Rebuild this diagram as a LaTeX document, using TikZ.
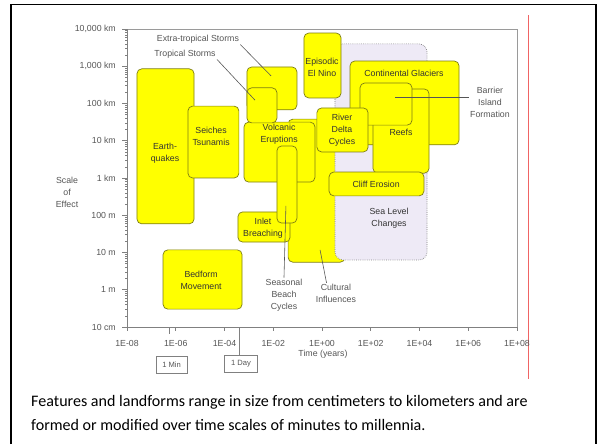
\documentclass[tikz,border=0pt]{standalone}
\usepackage{fontspec}
\setmainfont{Liberation Sans}
\newfontfamily\captionfont{Carlito}

\definecolor{boxedge}{RGB}{125,125,20}
\definecolor{boxyellow}{RGB}{255,255,0}
\definecolor{sealav}{RGB}{238,234,246}
\definecolor{axisgray}{RGB}{128,128,128}
\definecolor{labgray}{RGB}{85,85,85}
\definecolor{redrule}{RGB}{240,100,100}

\begin{document}
\begin{tikzpicture}[x=0.03cm, y=-0.03cm,
  box/.style={draw=boxedge, fill=boxyellow, rounded corners=4pt, line width=0.6pt},
  sea/.style={draw=gray, fill=sealav, rounded corners=7pt, line width=0.6pt, densely dotted},
  boxtext/.style={font=\fontsize{7.5}{10.2}\selectfont, text=black!80, align=center, inner sep=1pt},
  lab/.style={font=\fontsize{7.5}{10.2}\selectfont, text=labgray, align=center, inner sep=1pt},
  ylab/.style={font=\fontsize{7.5}{10.2}\selectfont, text=labgray, anchor=east, inner sep=0pt},
  axis/.style={draw=axisgray, line width=0.6pt},
  leader/.style={draw=labgray, line width=0.5pt},
  tbox/.style={draw=axisgray, line width=0.5pt, font=\fontsize{6.5}{8}\selectfont, text=labgray,
    inner xsep=5.5pt, minimum height=0.5cm},
  captxt/.style={anchor=base west, inner sep=0pt, font=\captionfont\fontsize{13.7}{16}\selectfont}]
  \useasboundingbox (0,0) rectangle (600,444);

  % Slide frame
  \draw[line width=1.7pt] (11,444) -- (11,4.5) -- (596,4.5) -- (596,444);
  \draw[redrule, line width=0.7pt] (528,15) -- (528,379);

  % Plot: u = decades of time from 1E-08 yr, v = decades of size from 10 cm
  \begin{scope}[shift={(127,327)}, x=0.73125cm, y=1.1175cm]
    % Frame and axes
    \draw[axisgray!80, line width=0.5pt] (0,8) -- (16,8) -- (16,0);
    \draw[axis] (0,0) -- (16,0);
    \draw[axis] (0,0) -- (0,8);
    \foreach \v/\txt in {0/10 cm, 1/1 m, 2/10 m, 3/100 m, 4/1 km, 5/10 km,
                         6/100 km, 7/{1,000 km}, 8/{10,000 km}} {
      \draw[axis] (0,\v) -- ++(-4pt,0);
      \node[ylab] (ylab\v) at (-0.45,\v) {\txt};
    }
    \foreach \v in {0,...,7}
      \foreach \m in {2,...,9}
        \draw[axis, line width=0.4pt] (0,{\v+log10(\m)}) -- ++(-2pt,0);
    \foreach \u/\txt in {0/1E-08, 2/1E-06, 4/1E-04, 6/1E-02, 8/1E+00,
                         10/1E+02, 12/1E+04, 14/1E+06, 16/1E+08} {
      \draw[axis] (\u,0) -- ++(0,-3pt);
      \node[lab] (xlab\u) at (\u,-0.43) {\txt};
    }
    \node[lab] (timelab) at (8.04,-0.72) {Time (years)};
    \node[lab] (scalelab) at (-2.46,3.62) {Scale\\of\\Effect};

    % Minute and day markers
    \coordinate (mintick) at (1.72,0);
    \draw[axis] (mintick) -- ++(0,-6pt);
    \node[tbox] (minbox) at (1.83,-1.01) {1 Min};
    \coordinate (daytick) at (4.59,0);
    \node[tbox] (daybox) at (4.68,-0.99) {1 Day};
    \draw[axis] (daytick) -- (daytick |- daybox.north);

    % Boxes, back to front
    \draw[box] (6.61,1.74) rectangle (8.94,5.58);   % cultural influences
    \draw[sea] (8.53,1.80) rectangle (12.31,7.60);  % sea level changes
    \draw[box] (7.26,6.15) rectangle (8.78,7.89);   % el nino
    \draw[box] (9.15,4.89) rectangle (13.62,7.14);  % continental glaciers
    \draw[box] (10.09,4.13) rectangle (12.39,6.39); % reefs
    \draw[box] (9.56,5.42) rectangle (11.69,6.55);  % barrier islands
    \draw[box] (7.79,4.70) rectangle (9.89,5.88);   % river deltas
    \draw[box] (8.29,3.52) rectangle (12.18,4.16);  % cliff erosion
    \draw[box] (4.80,3.89) rectangle (7.71,5.50);   % volcanic eruptions
    \draw[box] (4.92,5.83) rectangle (6.97,6.98);   % extra-tropical storms
    \draw[box] (4.92,5.48) rectangle (6.15,6.42);   % tropical storms
    \draw[box] (4.55,2.28) rectangle (6.69,3.09);   % inlet breaching
    \draw[box] (6.15,2.79) rectangle (6.97,4.86);   % seasonal beach cycles
    \draw[box] (0.41,2.77) rectangle (2.75,6.93);   % earthquakes
    \draw[box] (2.50,4.00) rectangle (4.59,5.93);   % seiches
    \draw[box] (1.48,0.48) rectangle (4.72,2.07);   % bedforms

    % Box texts
    \node[boxtext] (quake) at (1.56,4.67) {Earth-\\quakes};
    \node[boxtext] (seiche) at (3.45,5.13) {Seiches\\Tsunamis};
    \node[boxtext] (volcano) at (6.24,5.18) {Volcanic\\Eruptions};
    \node[boxtext] (inlet) at (5.58,2.66) {Inlet\\Breaching};
    \node[boxtext] (elnino) at (8.0,6.98) {Episodic\\El Nino};
    \node[boxtext] (glacier) at (11.36,6.82) {Continental Glaciers};
    \node[boxtext] (reefs) at (11.24,5.23) {Reefs};
    \node[boxtext] (delta) at (8.82,5.29) {River\\Delta\\Cycles};
    \node[boxtext] (cliff) at (10.22,3.84) {Cliff Erosion};
    \node[boxtext] (sealvl) at (10.75,2.93) {Sea Level\\Changes};
    \node[boxtext] (bedform) at (3.04,1.26) {Bedform\\Movement};

    % Labels outside the boxes
    \node[lab] (xtrolab) at (2.91,7.73) {Extra-tropical Storms};
    \node[lab] (trolab) at (2.38,7.33) {Tropical Storms};
    \node[lab] (barlab) at (14.89,6.04) {Barrier\\Island\\Formation};
    \node[lab] (beachlab) at (6.44,0.86) {Seasonal\\Beach\\Cycles};
    \node[lab] (cultlab) at (8.57,0.90) {Cultural\\Influences};

    \coordinate (xtropt) at (5.91,6.74);
    \coordinate (tropt) at (5.25,6.09);
    \coordinate (barpt) at (10.99,6.17);
    \coordinate (beachpt) at (6.52,3.25);
    \coordinate (cultpt) at (7.92,2.07);
    \draw[leader] (xtrolab.south east) -- (xtropt);
    \draw[leader] (trolab.south east) -- (tropt);
    \draw[leader] (barpt) -- (barpt -| barlab.west);
    \draw[leader] (beachpt) -- (beachlab.north);
    \draw[leader] (cultpt) -- ([xshift=-8pt]cultlab.north);
  \end{scope}

  % Caption
  \node[captxt] (cap1) at (31,406) {Features and landforms range in size from centimeters to kilometers and are};
  \node[captxt] (cap2) at (31,430) {formed or modified over time scales of minutes to millennia.};
\end{tikzpicture}
\end{document}
